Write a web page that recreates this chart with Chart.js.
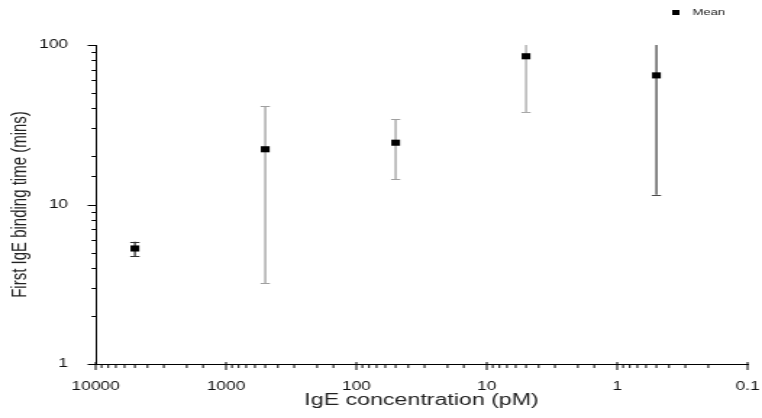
<!DOCTYPE html>
<html>
<head>
<meta charset="utf-8">
<script src="https://cdn.jsdelivr.net/npm/chart.js@4/dist/chart.umd.min.js"></script>
<style>
  html, body { margin: 0; padding: 0; background: #fff; overflow: hidden; }
  /* the original figure is stretched sideways, so draw narrow and scale up */
  #wrap { width: 526px; height: 418px; transform: scaleX(1.4487); transform-origin: 0 0; }
</style>
</head>
<body>
<div id="wrap"><canvas id="c"></canvas></div>
<script>
// IgE concentration (pM)
const concentrations = [5000, 500, 50, 5, 0.5];
// mean first binding time (mins)
const means = [5.3, 22.2, 24.4, 85, 64.5];
// standard deviation (mins)
const deviations = [0.55, 19, 10, 47, 53];
const barColors = ['#333333', '#a0a0a0', '#a0a0a0', '#a8a8a8', '#4a4a4a'];
const xTickLabels = ['10000', '1000', '100', '10', '1', '0.1'];
const yTickLabels = ['1', '10', '100'];

const isDecade = v => {
    const l = Math.log10(v);
    return Math.abs(l - Math.round(l)) < 1e-9;
};

const errorBars = {
    id: 'errorBars',
    beforeDatasetsDraw(chart) {
        const ctx = chart.ctx;
        const xs = chart.scales.x, ys = chart.scales.y;
        const area = chart.chartArea;
        ctx.save();
        ctx.beginPath();
        ctx.rect(area.left, area.top, area.right - area.left, area.bottom - area.top + 1);
        ctx.clip();
        concentrations.forEach((c, i) => {
            const x = xs.getPixelForValue(c);
            const yHi = ys.getPixelForValue(means[i] + deviations[i]);
            const yLo = ys.getPixelForValue(means[i] - deviations[i]);
            ctx.strokeStyle = barColors[i];
            ctx.lineWidth = 1.3;
            ctx.beginPath();
            ctx.moveTo(x, yHi);
            ctx.lineTo(x, yLo);
            ctx.stroke();
            ctx.lineWidth = 1;
            ctx.beginPath();
            ctx.moveTo(x - 3.2, Math.round(yHi) + 0.5);
            ctx.lineTo(x + 3.2, Math.round(yHi) + 0.5);
            ctx.moveTo(x - 3.2, Math.round(yLo) + 0.5);
            ctx.lineTo(x + 3.2, Math.round(yLo) + 0.5);
            ctx.stroke();
        });
        ctx.restore();
    }
};

// short minor / long major tick marks like the original axes
const tickMarks = {
    id: 'tickMarks',
    afterDraw(chart) {
        const ctx = chart.ctx;
        const xs = chart.scales.x, ys = chart.scales.y;
        const area = chart.chartArea;
        ctx.save();
        ctx.strokeStyle = '#000';
        ctx.lineWidth = 1;
        ctx.beginPath();
        xs.ticks.forEach(t => {
            const x = xs.getPixelForValue(t.value);
            const major = isDecade(t.value);
            ctx.moveTo(x, area.bottom - (major ? 2 : 0));
            ctx.lineTo(x, area.bottom + (major ? 6 : 4));
        });
        ys.ticks.forEach(t => {
            const y = Math.round(ys.getPixelForValue(t.value)) + 0.5;
            const major = isDecade(t.value);
            ctx.moveTo(area.left, y);
            ctx.lineTo(area.left - (major ? 5.5 : 2.8), y);
        });
        ctx.stroke();

        // legend, top right
        const ds = chart.data.datasets[0];
        ctx.fillStyle = '#000';
        ctx.fillRect(chart.width - 62, 10, 5, 5);
        ctx.font = '9px "Liberation Sans", Arial, sans-serif';
        ctx.textBaseline = 'middle';
        ctx.textAlign = 'left';
        ctx.fillStyle = '#222';
        ctx.fillText(ds.label, chart.width - 48, 13);
        ctx.restore();
    }
};

new Chart(document.getElementById('c'), {
    type: 'scatter',
    data: {
        datasets: [{
            label: 'Mean',
            data: concentrations.map((c, i) => ({ x: c, y: means[i] })),
            pointStyle: 'rect',
            pointRadius: 4.3,
            pointHoverRadius: 4.3,
            backgroundColor: '#000',
            borderColor: '#000',
            borderWidth: 0
        }]
    },
    options: {
        responsive: true,
        maintainAspectRatio: false,
        animation: false,
        layout: { padding: { top: 45, right: 10, left: 0, bottom: 0 } },
        plugins: { legend: { display: false }, tooltip: { enabled: false } },
        scales: {
            x: {
                type: 'logarithmic',
                reverse: true,
                min: 0.1,
                max: 10000,
                grid: { display: false },
                border: { display: true, color: '#000', width: 1 },
                afterFit(scale) {
                    scale.height = 54;
                    scale.paddingLeft = 0;
                    scale.paddingRight = 0;
                },
                ticks: {
                    autoSkip: false,
                    maxRotation: 0,
                    padding: 7,
                    color: '#111',
                    font: { family: '"Liberation Sans", Arial, sans-serif', size: 12 },
                    callback: v => isDecade(v) ? xTickLabels[Math.round(4 - Math.log10(v))] : ''
                },
                title: {
                    display: true,
                    text: 'IgE concentration (pM)',
                    color: '#222',
                    padding: { top: 0, bottom: 8 },
                    font: { family: '"Liberation Sans", Arial, sans-serif', size: 16 }
                }
            },
            y: {
                type: 'logarithmic',
                min: 1,
                max: 100,
                grid: { display: false },
                border: { display: true, color: '#000', width: 1 },
                afterFit(scale) { scale.width = 66; },
                ticks: {
                    autoSkip: false,
                    padding: 11,
                    color: '#111',
                    font: { family: '"Liberation Sans", Arial, sans-serif', size: 12 },
                    callback: v => isDecade(v) ? yTickLabels[Math.round(Math.log10(v))] : ''
                },
                title: {
                    display: true,
                    text: 'First IgE binding time (mins)',
                    color: '#222',
                    padding: { top: 5, bottom: 0 },
                    font: { family: '"Liberation Sans", Arial, sans-serif', size: 15 }
                }
            }
        }
    },
    plugins: [errorBars, tickMarks]
});
</script>
</body>
</html>
